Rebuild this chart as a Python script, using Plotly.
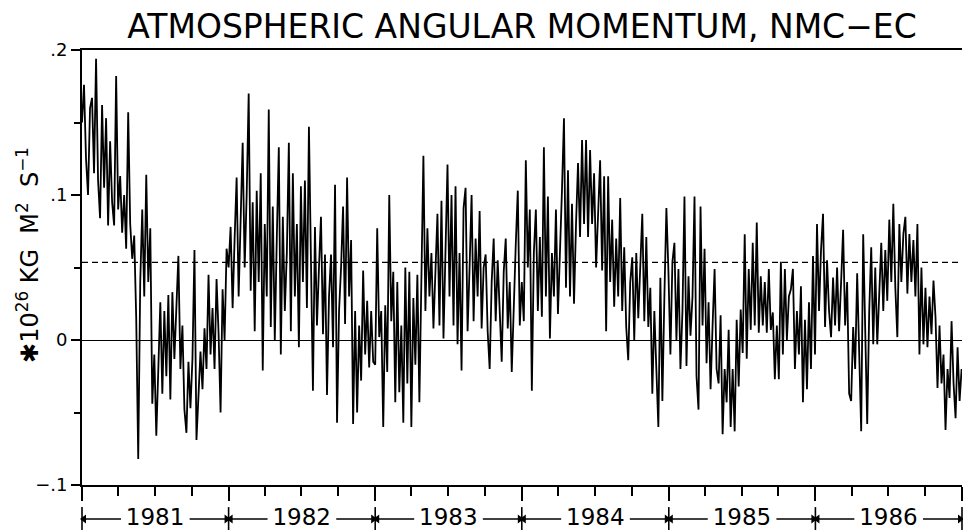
import plotly.graph_objects as go
import pandas as pd

# Atmospheric angular momentum difference NMC - EC, sampled every 5 days
# values in units of 1e-3 * 10^26 kg m^2 s^-1
aam_1981 = [150, 176, 125, 100, 160, 167, 115, 194, 110, 84, 162, 105, 153, 79, 137, 95,
            79, 182, 90, 113, 74, 100, 63, 157, 80, 56, 72, 15, -82, 40, 90, 30, 114, 40,
            77, -44, -10, -66, -20, 26, -37, 20, -25, 31, -41, 33, -13, 17, 58, -20, 10,
            -48, -64, -15, -47, -13, 62, -69, -43, -8, -34, 8, -20, 45, -10, 22, -20, 42,
            5, -50, 35, 0, 63]
aam_1982 = [50, 78, 22, 70, 112, 30, 90, 136, 50, 100, 170, 34, 95, 6, 103, 40, 115, -21,
            80, 30, 159, 9, 92, 0, 70, 133, -10, 85, 20, 60, 136, 6, 115, 30, 80, -5, 106,
            40, 110, 22, 147, 40, -35, 78, 10, 50, 85, 4, 59, -38, 30, 59, -5, 107, -57,
            20, 50, 92, 11, 112, 30, 69, -58, 20, -50, 10, -28, 48, -10, 27, -19, 20, -15]
aam_1983 = [-17, 77, 2, 20, -60, 24, -22, 100, 13, 47, -43, 40, -36, 10, -57, 50, -30, 47,
            -60, 29, -17, 45, -43, 30, 127, 20, 77, 30, 60, 8, 50, 87, 10, 96, 1, 73, 121,
            30, 100, 10, 106, -3, 60, -21, 91, 105, 6, 50, 100, 13, 70, 30, 89, 8, 50, 59,
            6, -20, 40, 70, 13, 55, 20, -15, 47, 70, 8, 40, -22, 30, 66, 103, 10]
aam_1984 = [40, 13, 124, 50, 90, -35, 60, 90, 20, 71, 16, 133, 30, 99, 1, 60, 30, 90, 18,
            70, 103, 153, 36, 117, 30, 94, 25, 80, 122, 71, 138, 80, 138, 71, 131, 80, 115,
            50, 90, 124, 48, 113, 6, 113, 40, 83, 23, 70, 30, 98, 20, 64, 9, -14, 40, 57, 0,
            60, 15, 50, 87, 13, 71, 9, 36, -37, 20, -20, -60, 43, -42, 30, 91]
aam_1985 = [48, -10, 54, 67, 0, 49, -20, 20, 99, -18, 44, 3, 30, 99, -25, -48, 92, 10, 63,
            -16, 26, -34, 10, 49, -20, -30, 17, -65, -20, -43, 7, -60, -20, -63, 14, -32, 21,
            -9, 73, -13, 49, 7, 67, 10, 81, 5, 44, 10, 40, 5, 49, 7, 19, -27, 10, -27, 54,
            -10, 49, 0, 30, 35, 49, -20, 20, -10, 37, -43, 14, -34, 26, -20, 58]
aam_1986 = [-10, 80, 20, 62, 87, 9, 55, 20, 2, 43, 10, 50, 6, 40, 76, 10, 40, -37, -42, 9,
            -20, 46, -10, -63, 73, 0, -58, 20, 64, -3, 50, -3, 40, 67, 20, 62, 27, 83, 40,
            94, 36, 2, 80, 40, 73, 85, 32, 73, 40, 69, 30, 80, -10, 50, -3, 36, -5, 30, 4,
            41, 16, -33, 10, -30, -10, -62, -20, -40, 13, -30, -54, -5, -42, -20]

mean_value = 0.0535          # dashed line (series mean)
years = [1981, 1982, 1983, 1984, 1985, 1986]
ytick_vals = [-0.1, 0.0, 0.1, 0.2]
ytick_text = ["\u2212.1", "0", ".1", ".2"]

values = [v / 1000 for v in aam_1981 + aam_1982 + aam_1983 + aam_1984 + aam_1985 + aam_1986]
dates = pd.date_range("1981-01-01", periods=len(values), freq="5D")

FONT = "DejaVu Sans"
LABEL_ROW = 11               # height of the year-label row inside the strip axis (px units)

fig = go.Figure()
fig.add_trace(go.Scatter(x=dates, y=values, mode="lines",
                         line=dict(color="black", width=1.8), hoverinfo="skip"))
fig.add_trace(go.Scatter(x=[f"{years[0]}-01-01", f"{years[-1] + 1}-01-01"],
                         y=[mean_value, mean_value], mode="lines",
                         line=dict(color="black", width=1.4, dash="6px,4px"),
                         hoverinfo="skip"))

# year-span labels  |<---- 1981 ---->|  drawn in a strip axis under the plot
shaft_x, shaft_y, head_x, head_sym = [], [], [], []
for yr in years:
    shaft_x += [f"{yr}-01-05", f"{yr}-04-08", None, f"{yr}-09-26", f"{yr}-12-28", None]
    shaft_y += [LABEL_ROW, LABEL_ROW, None, LABEL_ROW, LABEL_ROW, None]
    head_x += [f"{yr}-01-06", f"{yr}-12-27"]
    head_sym += ["triangle-left", "triangle-right"]
fig.add_trace(go.Scatter(x=shaft_x, y=shaft_y, xaxis="x", yaxis="y2", mode="lines",
                         line=dict(color="black", width=1.5), hoverinfo="skip",
                         cliponaxis=False))
fig.add_trace(go.Scatter(x=head_x, y=[LABEL_ROW] * len(head_x), xaxis="x", yaxis="y2",
                         mode="markers", marker=dict(symbol=head_sym, size=8, color="black"),
                         hoverinfo="skip", cliponaxis=False))
bounds = [f"{yr}-01-01" for yr in years] + [f"{years[-1] + 1}-01-01"]
fig.add_trace(go.Scatter(x=bounds, y=[LABEL_ROW] * len(bounds), xaxis="x", yaxis="y2",
                         mode="markers",
                         marker=dict(symbol="line-ns", size=17, color="black",
                                     line=dict(color="black", width=1.6)),
                         hoverinfo="skip", cliponaxis=False))
fig.add_trace(go.Scatter(x=[f"{yr}-07-02" for yr in years], y=[LABEL_ROW] * len(years),
                         xaxis="x", yaxis="y2", mode="text", text=[str(y) for y in years],
                         textposition="middle center",
                         textfont=dict(family=FONT, size=23, color="black"),
                         hoverinfo="skip", cliponaxis=False))

fig.update_layout(
    width=963, height=530,
    margin=dict(l=82, r=1, t=50, b=0, autoexpand=False),
    paper_bgcolor="white", plot_bgcolor="white",
    showlegend=False,
    title=dict(text="ATMOSPHERIC ANGULAR MOMENTUM, NMC\u2212EC",
               font=dict(family=FONT, size=33, color="black"),
               x=0.5, xref="paper", xanchor="center",
               y=0.951, yref="container", yanchor="middle"),
    annotations=[dict(x=-0.0614, y=0.573, xref="paper", yref="paper",
                      text="\u273110<sup>26</sup>\u00a0KG\u00a0\u00a0M<sup>2</sup>\u00a0\u00a0S<sup>\u22121</sup>",
                      textangle=-90, showarrow=False,
                      font=dict(family=FONT, size=24, color="black"),
                      xanchor="center", yanchor="middle")],
    yaxis2=dict(domain=[0, 45 / 480], range=[0, 45], visible=False, anchor="x",
                fixedrange=True, automargin=False),
)
fig.update_xaxes(
    type="date", range=[f"{years[0]}-01-01", f"{years[-1] + 1}-01-01"],
    automargin=False,
    showgrid=False, zeroline=False,
    showline=True, linecolor="black", linewidth=2, mirror=True,
    ticks="outside", tick0=f"{years[0]}-01-01", dtick="M12", ticklen=14, tickwidth=2,
    tickcolor="black", showticklabels=False,
    minor=dict(ticks="outside", dtick="M3", ticklen=9, tickwidth=2, tickcolor="black",
               showgrid=False),
)
fig.update_layout(yaxis=dict(
    domain=[45 / 480, 1], automargin=False,
    range=[-0.1, 0.2], showgrid=False,
    zeroline=True, zerolinecolor="black", zerolinewidth=1.3,
    showline=True, linecolor="black", linewidth=2,
    ticks="outside", tickvals=ytick_vals, ticktext=ytick_text, ticklen=9, tickwidth=2,
    tickcolor="black", tickfont=dict(family=FONT, size=18, color="black"),
    minor=dict(ticks="outside", tickvals=[-0.05, 0.05, 0.15], ticklen=6, tickwidth=2,
               tickcolor="black", showgrid=False),
))

fig.write_html("out.html", config={"displayModeBar": False},
               post_script="document.body.style.margin='0';document.body.style.overflow='hidden';")
